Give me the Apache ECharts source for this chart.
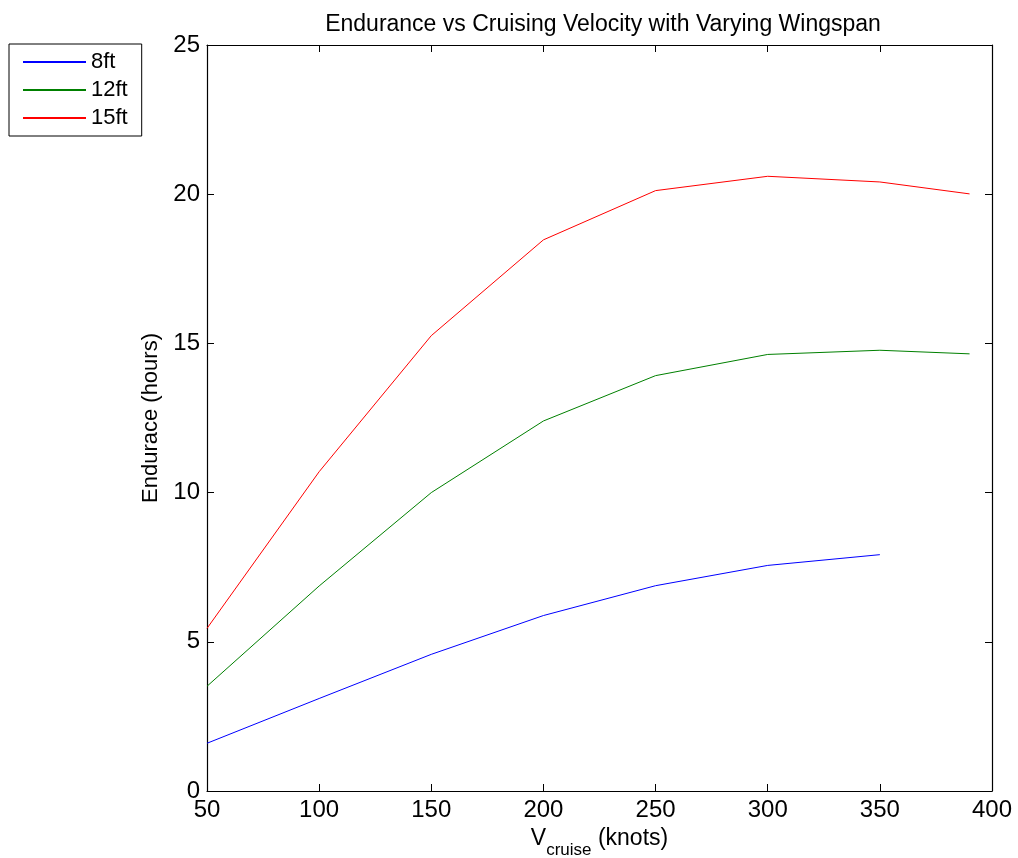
<!DOCTYPE html>
<html>
<head>
<meta charset="utf-8">
<script src="https://cdn.jsdelivr.net/npm/echarts@6/dist/echarts.min.js"></script>
<style>
  html, body { margin: 0; padding: 0; background: #fff; }
  #root { width: 1018px; height: 858px; }
</style>
</head>
<body>
<div id="root"></div>
<script>
// cruise speed (knots)
const speeds = [50, 100, 150, 200, 250, 300, 350, 390]

// endurance (hours) for each wingspan
const span8 = [1.60, 3.10, 4.58, 5.88, 6.88, 7.56, 7.92]
const span12 = [3.51, 6.87, 10.0, 12.40, 13.92, 14.63, 14.77, 14.65]
const span15 = [5.45, 10.70, 15.26, 18.47, 20.12, 20.60, 20.41, 20.01]

const seriesNames = ['8ft', '12ft', '15ft']
const seriesColors = ['#0000ff', '#008000', '#ff0000']

const font = 'Liberation Sans, Arial, Helvetica, sans-serif'

const pairs = (ys) => ys.map((y, i) => [speeds[i], y])

const tickStyle = { show: true, inside: true, length: 7, lineStyle: { color: '#000', width: 1 } }
const lineStyle = { show: true, onZero: false, lineStyle: { color: '#000', width: 1.2 } }

const chart = echarts.init(document.getElementById('root'))

chart.setOption({
  animation: false,
  backgroundColor: '#fff',
  title: {
    text: 'Endurance vs Cruising Velocity with Varying Wingspan',
    left: 598,
    textAlign: 'center',
    top: 8,
    textStyle: { fontFamily: font, fontSize: 23, fontWeight: 'normal', color: '#000' }
  },
  legend: {
    orient: 'vertical',
    left: 9,
    top: 44,
    data: seriesNames,
    backgroundColor: '#fff',
    borderColor: '#000',
    borderWidth: 1,
    padding: [7, 14, 7, 13],
    itemWidth: 63,
    itemHeight: 20,
    itemGap: 6,
    itemStyle: { opacity: 0 },
    textStyle: { fontFamily: font, fontSize: 22, color: '#000', lineHeight: 20 }
  },
  grid: { left: 207, right: 26, top: 45, bottom: 67, containLabel: false, outerBoundsMode: 'none' },
  xAxis: [
    {
      type: 'value', min: 50, max: 400, interval: 50, position: 'bottom',
      axisLine: lineStyle, axisTick: tickStyle, splitLine: { show: false },
      axisLabel: { fontFamily: font, fontSize: 24, color: '#000', margin: 7 },
      name: '{v|V}{sub|cruise}{n| (knots)}',
      nameLocation: 'middle',
      nameGap: 27,
      nameTextStyle: {
        fontFamily: font, color: '#000',
        rich: {
          v: { fontFamily: font, fontSize: 23, color: '#000', verticalAlign: 'top', lineHeight: 22 },
          sub: { fontFamily: font, fontSize: 17, color: '#000', verticalAlign: 'top', lineHeight: 18, padding: [15, 0, 0, 0] },
          n: { fontFamily: font, fontSize: 23, color: '#000', verticalAlign: 'top', lineHeight: 22 }
        }
      }
    },
    {
      type: 'value', min: 50, max: 400, interval: 50, position: 'top',
      axisLine: lineStyle, axisTick: tickStyle, splitLine: { show: false },
      axisLabel: { show: false }
    }
  ],
  yAxis: [
    {
      type: 'value', min: 0, max: 25, interval: 5, position: 'left',
      axisLine: lineStyle, axisTick: tickStyle, splitLine: { show: false },
      axisLabel: { fontFamily: font, fontSize: 24, color: '#000', margin: 7 },
      name: 'Endurace (hours)',
      nameLocation: 'middle',
      nameGap: 44,
      nameTextStyle: { fontFamily: font, fontSize: 22, color: '#000' }
    },
    {
      type: 'value', min: 0, max: 25, interval: 5, position: 'right',
      axisLine: lineStyle, axisTick: tickStyle, splitLine: { show: false },
      axisLabel: { show: false }
    }
  ],
  series: [span8, span12, span15].map((ys, i) => ({
    name: seriesNames[i],
    type: 'line',
    data: pairs(ys),
    symbol: 'none',
    showSymbol: false,
    color: seriesColors[i],
    lineStyle: { color: seriesColors[i], width: 1 }
  }))
})
</script>
</body>
</html>
